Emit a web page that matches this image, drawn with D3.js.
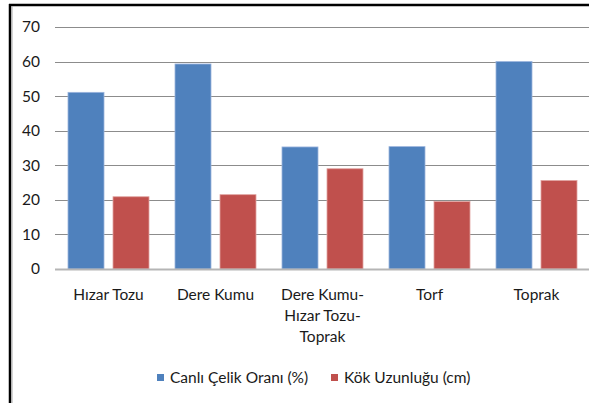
<!DOCTYPE html>
<html>
<head>
<meta charset="utf-8">
<script src="https://cdn.jsdelivr.net/npm/d3@7"></script>
<style>
  body { margin: 0; background: #fff; }
  svg { display: block; }
  text { font-family: Lato, "Open Sans", sans-serif; fill: #1a1a1a; }
</style>
</head>
<body>
<div id="chart"></div>
<script>
// Set dimensions
const width = 589;
const height = 403;
const margin = { top: 27, right: -1, bottom: 134, left: 55 };

// Data
const categories = [
    ["Hızar Tozu"],
    ["Dere Kumu"],
    ["Dere Kumu-", "Hızar Tozu-", "Toprak"],
    ["Torf"],
    ["Toprak"]
];
const seriesNames = ["Canlı Çelik Oranı (%)", "Kök Uzunluğu (cm)"];
const canliCelik = [51.1, 59.3, 35.3, 35.4, 60.0];
const kokUzunlugu = [20.9, 21.5, 29.0, 19.5, 25.6];
const yTicks = [0, 10, 20, 30, 40, 50, 60, 70];
const colors = ["#4f81bd", "#c0504d"];

const fontSize = '15.5px';

const svg = d3.select('#chart')
    .append('svg')
    .attr('width', width)
    .attr('height', height);

// Outer frame (top and left edges only are visible)
svg.append("line")
    .attr("x1", 9).attr("x2", width).attr("y1", 5).attr("y2", 5)
    .attr("stroke", "#000").attr("stroke-width", 2.5);
svg.append("line")
    .attr("x1", 10).attr("x2", 10).attr("y1", 4).attr("y2", height)
    .attr("stroke", "#000").attr("stroke-width", 2.5);
svg.append("line")
    .attr("x1", 12).attr("x2", 12).attr("y1", 6).attr("y2", height)
    .attr("stroke", "#aaa").attr("stroke-width", 1);

const plotW = width - margin.left - margin.right;
const plotH = height - margin.top - margin.bottom;

const g = svg.append('g')
    .attr('transform', `translate(${margin.left},${margin.top})`);

// Scales
const x = d3.scaleBand()
    .domain(d3.range(categories.length))
    .range([0, plotW]);

const y = d3.scaleLinear()
    .domain([0, 70])
    .range([plotH, 0]);

const inner = d3.scaleBand()
    .domain([0, 1])
    .range([13, x.bandwidth() - 13])
    .paddingInner(0.2);

// Gridlines
g.selectAll('.grid')
    .data(yTicks.filter(d => d > 0))
    .join('line')
      .attr('class', 'grid')
      .attr('x1', 0).attr('x2', plotW)
      .attr('y1', d => Math.round(y(d)) + 0.5)
      .attr('y2', d => Math.round(y(d)) + 0.5)
      .attr('stroke', '#8c8c8c')
      .attr('stroke-width', 1.2);

// Y axis labels
const yAxis = g.append('g')
    .call(d3.axisLeft(y).tickValues(yTicks).tickSize(0).tickPadding(15));
yAxis.select('.domain').remove();
yAxis.selectAll('text')
    .style('font-family', 'Lato, "Open Sans", sans-serif')
    .style('font-size', fontSize)
    .attr('fill', '#1a1a1a');

// Bars
const rows = categories.map((c, i) => [canliCelik[i], kokUzunlugu[i]]);
const groups = g.selectAll('.grp')
    .data(rows)
    .join('g')
      .attr('class', 'grp')
      .attr('transform', (d, i) => `translate(${x(i)},0)`);

groups.selectAll('rect')
    .data(d => d.map((v, k) => ({ v, k })))
    .join('rect')
      .attr('x', d => inner(d.k))
      .attr('width', inner.bandwidth())
      .attr('y', d => y(d.v))
      .attr('height', d => y(0) - y(d.v))
      .attr('fill', d => colors[d.k])
      .attr('stroke', d => d.k === 0 ? '#9bb5dd' : '#e0a3a1')
      .attr('stroke-width', 0.8);

// Baseline
g.append('line')
    .attr('x1', 0).attr('x2', plotW)
    .attr('y1', y(0) + 0.5).attr('y2', y(0) + 0.5)
    .attr('stroke', '#b5b5b5')
    .attr('stroke-width', 2);

// X labels (multi-line)
const xLabels = g.selectAll('.xlab')
    .data(categories)
    .join('text')
      .attr('class', 'xlab')
      .attr('text-anchor', 'middle')
      .attr('transform', (d, i) => `translate(${x(i) + x.bandwidth() / 2},${plotH + 31})`)
      .style('font-size', fontSize);

xLabels.selectAll('tspan')
    .data(d => d)
    .join('tspan')
      .attr('x', 0)
      .attr('y', (d, i) => i * 21)
      .text(d => d);

// Legend
const legendItems = [
    { name: seriesNames[0], color: colors[0], x: 157 },
    { name: seriesNames[1], color: colors[1], x: 331 }
];
const legend = svg.selectAll('.legend')
    .data(legendItems)
    .join('g')
      .attr('class', 'legend')
      .attr('transform', d => `translate(${d.x},378)`);

legend.append('rect')
    .attr('x', 0).attr('y', -4)
    .attr('width', 7).attr('height', 7)
    .attr('fill', d => d.color);

legend.append('text')
    .attr('x', 13)
    .attr('y', 5)
    .style('font-size', fontSize)
    .text(d => d.name);
</script>
</body>
</html>
